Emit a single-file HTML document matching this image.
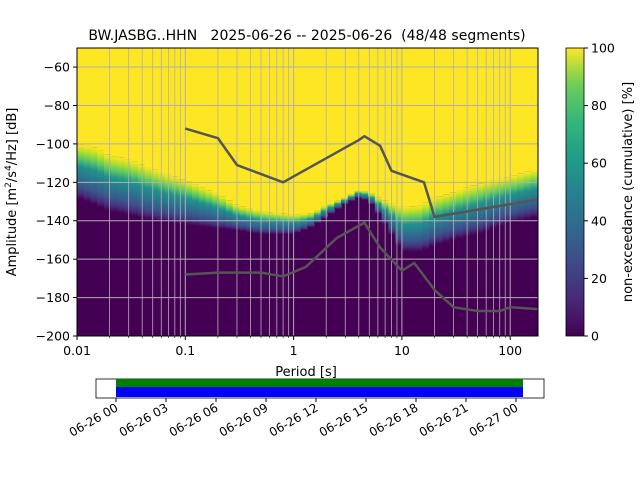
<!DOCTYPE html>
<html><head><meta charset="utf-8"><style>
body{margin:0;background:#fff;width:640px;height:480px;overflow:hidden;font-family:"Liberation Sans","DejaVu Sans",sans-serif}
svg text{font-family:"DejaVu Sans","Liberation Sans",sans-serif}
</style></head><body>
<svg id="chart" width="640" height="480" viewBox="0 0 640 480">
<defs>
<linearGradient id="vir" x1="0" y1="0" x2="0" y2="1">
<stop offset="0" stop-color="#fde725"/><stop offset="0.12" stop-color="#b5de2b"/><stop offset="0.25" stop-color="#5ec962"/><stop offset="0.4" stop-color="#21918c"/><stop offset="0.6" stop-color="#2c728e"/><stop offset="0.78" stop-color="#3b528b"/><stop offset="0.9" stop-color="#472d7b"/><stop offset="1" stop-color="#440154"/>
</linearGradient>
<linearGradient id="cb" x1="0" y1="1" x2="0" y2="0">
<stop offset="0" stop-color="#440154"/><stop offset="0.125" stop-color="#482878"/><stop offset="0.25" stop-color="#3e4989"/><stop offset="0.375" stop-color="#31688e"/><stop offset="0.5" stop-color="#26828e"/><stop offset="0.625" stop-color="#1f9e89"/><stop offset="0.75" stop-color="#35b779"/><stop offset="0.875" stop-color="#6ece58"/><stop offset="1" stop-color="#fde725"/>
</linearGradient>
<clipPath id="clip"><rect x="77" y="48" width="461" height="288"/></clipPath>
</defs>
<text x="307" y="40" font-size="14" text-anchor="middle" xml:space="preserve" style="white-space:pre">BW.JASBG..HHN   2025-06-26 -- 2025-06-26  (48/48 segments)</text>
<g id="heat" clip-path="url(#clip)"></g>
<g id="grid"></g>
<g id="lines" clip-path="url(#clip)"></g>
<rect x="77" y="48" width="461" height="288" fill="none" stroke="#000" stroke-width="1"/>
<g id="axes" font-size="12.5"></g>
<text x="306" y="376" font-size="13" text-anchor="middle">Period [s]</text>
<text transform="translate(16,192) rotate(-90)" font-size="13" text-anchor="middle">Amplitude [m<tspan font-size="9" dy="-5">2</tspan><tspan dy="5">/s</tspan><tspan font-size="9" dy="-5">4</tspan><tspan dy="5">/Hz] [dB]</tspan></text>
<rect x="566" y="48" width="18" height="288" fill="url(#cb)" stroke="#000" stroke-width="0.8"/>
<g id="cbax" font-size="12.5"></g>
<text transform="translate(632,192) rotate(-90)" font-size="13" text-anchor="middle">non-exceedance (cumulative) [%]</text>
<rect x="96" y="379" width="448" height="19" fill="#fff" stroke="#000" stroke-width="0.8"/>
<rect x="116" y="379" width="407" height="8" fill="#008000"/>
<rect x="116" y="387" width="407" height="10" fill="#0000ff"/>
<g id="tax" font-size="12"></g>
</svg>
<script>
const periods=[0.01,0.015,0.02,0.03,0.05,0.1,0.2,0.3,0.5,1,1.5,2,3,4,5,6,8,10,15,20,30,50,100,180];
const yellowEdge=[-100,-102,-106,-108,-113,-119,-126,-132,-135,-137,-136,-132,-128,-124,-125,-128,-131,-133,-132,-128,-125,-121,-117,-113];
const purpleEdge=[-128,-132,-135,-137,-140,-142,-144,-145,-147,-147,-143,-138,-131,-128,-130,-136,-147,-156,-156,-153,-150,-147,-141,-138];
const upPer=[0.1,0.2,0.3,0.8,4,4.5,6.3,8,16,20,180];
const upVal=[-92,-97,-111,-120,-98,-96,-101,-114,-120,-138,-129];
const loPer=[0.1,0.2,0.5,0.8,1.3,2.5,4.5,6.3,10,13,20,30,50,80,100,180];
const loVal=[-168,-167,-167,-169,-164,-149,-141,-154,-166,-162,-176,-185,-187,-187,-185,-186];
const yTicks=[-60,-80,-100,-120,-140,-160,-180,-200];
const xTicks=[0.01,0.1,1,10,100];
const xTickLabels=["0.01","0.1","1","10","100"];
const cbTicks=[0,20,40,60,80,100];
const timeLabels=["06-26 00","06-26 03","06-26 06","06-26 09","06-26 12","06-26 15","06-26 18","06-26 21","06-27 00"];
const NS="http://www.w3.org/2000/svg";
const X=p=>77+(Math.log10(p)+2)*108.3;
const Y=v=>336-(v+200)*1.921;
function el(t,a,parent){const e=document.createElementNS(NS,t);for(const k in a)e.setAttribute(k,a[k]);parent.appendChild(e);return e;}
function interp(arr,lp){const L=periods.map(Math.log10);if(lp<=L[0])return arr[0];for(let i=1;i<L.length;i++){if(lp<=L[i]){const f=(lp-L[i-1])/(L[i]-L[i-1]);return arr[i-1]+f*(arr[i]-arr[i-1]);}}return arr[arr.length-1];}
const heat=document.getElementById('heat');
el('rect',{x:77,y:48,width:461,height:288,fill:'#440154'},heat);
const step=1/16;
for(let lp=-2;lp<2.26;lp+=step){
  const x0=X(Math.pow(10,lp)),x1=X(Math.pow(10,lp+step));
  const ye=Y(interp(yellowEdge,lp+step/2)),pe=Y(interp(purpleEdge,lp+step/2));
  const r1=el('rect',{x:x0,y:48,width:x1-x0+0.6,height:ye-48,fill:'#fde725'},heat);
  
  
  const r2=el('rect',{x:x0,y:ye,width:x1-x0+0.6,height:Math.max(pe-ye,1),fill:'url(#vir)'},heat);
  
  
}
const grid=document.getElementById('grid');
for(let d=-2;d<=2;d++)for(let m=1;m<=9;m++){const p=m*Math.pow(10,d);const x=X(p);if(x>538)continue;
  const g=el('line',{x1:x,x2:x,y1:48,y2:336,stroke:'#b0b0b0','stroke-width':m==1?1:0.8},grid);
  
  }
yTicks.forEach(v=>{const g=el('line',{x1:77,x2:538,y1:Y(v),y2:Y(v),stroke:'#b0b0b0','stroke-width':1},grid);
  
  });
const lines=document.getElementById('lines');
function poly(ps,vs,name){const pl=el('polyline',{points:ps.map((p,i)=>X(p)+','+Y(vs[i])).join(' '),fill:'none',stroke:'#555','stroke-width':2.5,'stroke-linejoin':'round'},lines);
  
  }
poly(upPer,upVal,'upper-percentile-line');poly(loPer,loVal,'lower-percentile-line');
const axes=document.getElementById('axes');
xTicks.forEach((p,i)=>{const x=X(p);el('line',{x1:x,x2:x,y1:336,y2:340,stroke:'#000'},axes);
  const t=el('text',{x:x,y:355,'text-anchor':'middle'},axes);t.textContent=xTickLabels[i];
  
  });
for(let d=-2;d<=2;d++)for(let m=2;m<=9;m++){const x=X(m*Math.pow(10,d));if(x>538)continue;el('line',{x1:x,x2:x,y1:336,y2:338,stroke:'#000','stroke-width':0.6},axes);}
yTicks.forEach(v=>{const y=Y(v);el('line',{x1:73,x2:77,y1:y,y2:y,stroke:'#000'},axes);
  const t=el('text',{x:70,y:y+4.5,'text-anchor':'end'},axes);t.textContent=String(v).replace('-','\u2212');
  
  });
const cbax=document.getElementById('cbax');
cbTicks.forEach(v=>{const y=336-v*2.88;el('line',{x1:584,x2:588,y1:y,y2:y,stroke:'#000'},cbax);
  const t=el('text',{x:591,y:y+4.5},cbax);t.textContent=v;
  
  });
const tax=document.getElementById('tax');
timeLabels.forEach((s,i)=>{const x=116+i*50;el('line',{x1:x,x2:x,y1:398,y2:402,stroke:'#000'},tax);
  const t=el('text',{x:x+3,y:410,'text-anchor':'end',transform:`rotate(-30 ${x+3} 410)`},tax);t.textContent=s;
  
  });
</script>
</body></html>
